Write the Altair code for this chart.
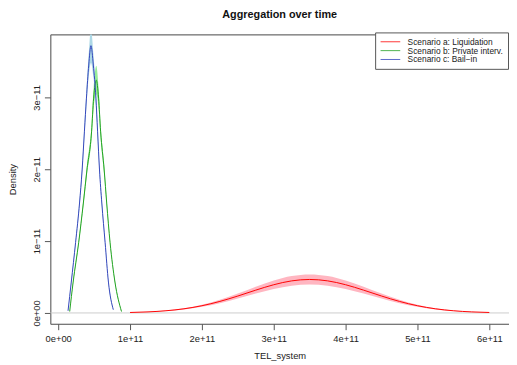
import altair as alt
import pandas as pd

series_names = ["Scenario a: Liquidation", "Scenario b: Private interv.", "Scenario c: Bail\u2212in"]
line_colors = ["#ff0000", "#22a022", "#3344bb"]
band_colors = ["#ffb6c1", "#98ec98", "#add8e6"]

# Scenario a (x in 1e11, density in 1e-11)
red_x = [1.0, 1.25, 1.5, 1.75, 2.0, 2.25, 2.5, 2.75, 3.0, 3.25, 3.5,
         3.75, 4.0, 4.25, 4.5, 4.75, 5.0, 5.25, 5.5, 5.75, 6.0]
red_y = [0.0066, 0.0147, 0.0304, 0.0577, 0.1004, 0.1605, 0.2356, 0.3175, 0.3928, 0.4466, 0.466,
         0.4466, 0.3928, 0.3175, 0.2356, 0.1605, 0.1004, 0.0577, 0.0304, 0.0147, 0.0066]
red_ci = [0.001, 0.002, 0.005, 0.009, 0.015, 0.024, 0.035, 0.048, 0.059, 0.067, 0.07,
          0.067, 0.059, 0.048, 0.035, 0.024, 0.015, 0.009, 0.005, 0.002, 0.001]

# Scenario b (x in 1e10, density in 1e-11)
green_x = [1.6, 2.08, 2.85, 3.5, 4.0, 4.65, 4.93, 5.3, 5.62, 5.9, 6.4, 6.75, 7.22, 7.9, 8.81]
green_y = [0.02, 0.43, 0.98, 1.53, 1.99, 2.53, 2.99, 3.24, 2.99, 2.53, 1.99, 1.53, 0.98, 0.43, 0.02]
green_ci = [0.005, 0.02, 0.03, 0.05, 0.07, 0.1, 0.14, 0.2, 0.14, 0.1, 0.07, 0.05, 0.03, 0.02, 0.005]

# Scenario c (x in 1e10, density in 1e-11)
blue_x = [1.37, 1.82, 2.42, 2.97, 3.33, 3.65, 3.93, 4.25, 4.56, 4.89, 5.25, 5.48, 5.75, 6.07, 6.53, 6.99, 7.67]
blue_y = [0.03, 0.43, 0.98, 1.53, 1.99, 2.53, 2.99, 3.45, 3.72, 3.45, 2.99, 2.53, 1.99, 1.53, 0.98, 0.43, 0.045]
blue_ci = [0.005, 0.02, 0.03, 0.05, 0.06, 0.08, 0.11, 0.16, 0.24, 0.16, 0.11, 0.08, 0.06, 0.05, 0.03, 0.02, 0.005]

x_ticks = [0, 1e11, 2e11, 3e11, 4e11, 5e11, 6e11]
y_ticks = [0, 1e-11, 2e-11, 3e-11]

rows = []
for name, xs, ys, cis, xscale in [
    (series_names[0], red_x, red_y, red_ci, 1e11),
    (series_names[1], green_x, green_y, green_ci, 1e10),
    (series_names[2], blue_x, blue_y, blue_ci, 1e10),
]:
    for i, (xv, yv, cv) in enumerate(zip(xs, ys, cis)):
        rows.append({"series": name, "band": "band " + name, "order": i, "x": xv * xscale,
                     "y": yv * 1e-11, "lo": (yv - cv) * 1e-11, "hi": (yv + cv) * 1e-11})
df = pd.DataFrame(rows)

FONT = "Liberation Sans"
xscale = alt.Scale(domain=[-1.096e10, 6.274e11], nice=False, zero=False)
yscale = alt.Scale(domain=[-1.507e-12, 3.877e-11], nice=False, zero=False)

x_bottom = alt.X("x:Q", scale=xscale, title="TEL_system",
                 axis=alt.Axis(values=x_ticks, labelExpr="datum.value == 0 ? '0e+00' : format(datum.value, '.0e')",
                               tickSize=6, labelPadding=4, titlePadding=8, domainColor="#555", tickColor="#555",
                               labelFont=FONT, labelFontSize=9.5, titleFont=FONT, titleFontSize=9.5,
                               titleFontWeight="normal", labelColor="#222", titleColor="#222", grid=False))
x_top = alt.X("x:Q", scale=xscale, title=None,
              axis=alt.Axis(orient="top", labels=False, ticks=False, domain=True, domainColor="#555", grid=False))

zero = alt.Chart(alt.Data(values=[{}])).mark_rule(color="#cccccc", strokeWidth=1).encode(
    y=alt.datum(0, scale=yscale))

bands = alt.Chart(df).mark_area(interpolate="monotone", clip=True).encode(
    x=x_top,
    y=alt.Y("lo:Q", scale=yscale, title="Density",
            axis=alt.Axis(values=y_ticks,
                          labelExpr="datum.value == 0 ? '0e+00' : replace(format(datum.value, '.0e'), '-', '\u2212')",
                          labelAngle=270, labelAlign="center", labelBaseline="bottom",
                          tickSize=6, labelPadding=3, titlePadding=14, domainColor="#555", tickColor="#555",
                          labelFont=FONT, labelFontSize=9.5, titleFont=FONT, titleFontSize=9.5,
                          titleFontWeight="normal", labelColor="#222", titleColor="#222", grid=False)),
    y2="hi:Q",
    fill=alt.Fill("band:N", scale=alt.Scale(domain=["band " + s for s in series_names], range=band_colors),
                  legend=None),
)

lines = alt.Chart(df).mark_line(interpolate="monotone", strokeWidth=1, clip=True).encode(
    x=x_bottom,
    y=alt.Y("y:Q", scale=yscale),
    stroke=alt.Stroke("series:N", scale=alt.Scale(domain=series_names, range=line_colors),
                      legend=alt.Legend(orient="none", legendX=330, legendY=-2, title=None,
                                        symbolType="stroke", symbolSize=400, symbolStrokeWidth=0.8,
                                        clipHeight=9,
                                        labelFont=FONT, labelFontSize=8.5, labelColor="#222",
                                        strokeColor="#555", fillColor="white", padding=5,
                                        rowPadding=0, labelOffset=7)),
    order="order:Q",
)

chart = alt.layer(zero, bands, lines).resolve_axis(x="independent").resolve_scale(
    fill="independent", stroke="independent").properties(
    width=466, height=294,
    padding={"left": 43, "top": 24, "right": 0, "bottom": 35},
    autosize=alt.AutoSizeParams(type="none"),
    title=alt.TitleParams("Aggregation over time", fontSize=11, fontWeight="bold", font=FONT,
                          anchor="middle", offset=12, color="#111"),
).configure_view(stroke=None).configure(background="white")

chart.save("out.html", embed_options={"renderer": "svg", "actions": False})
